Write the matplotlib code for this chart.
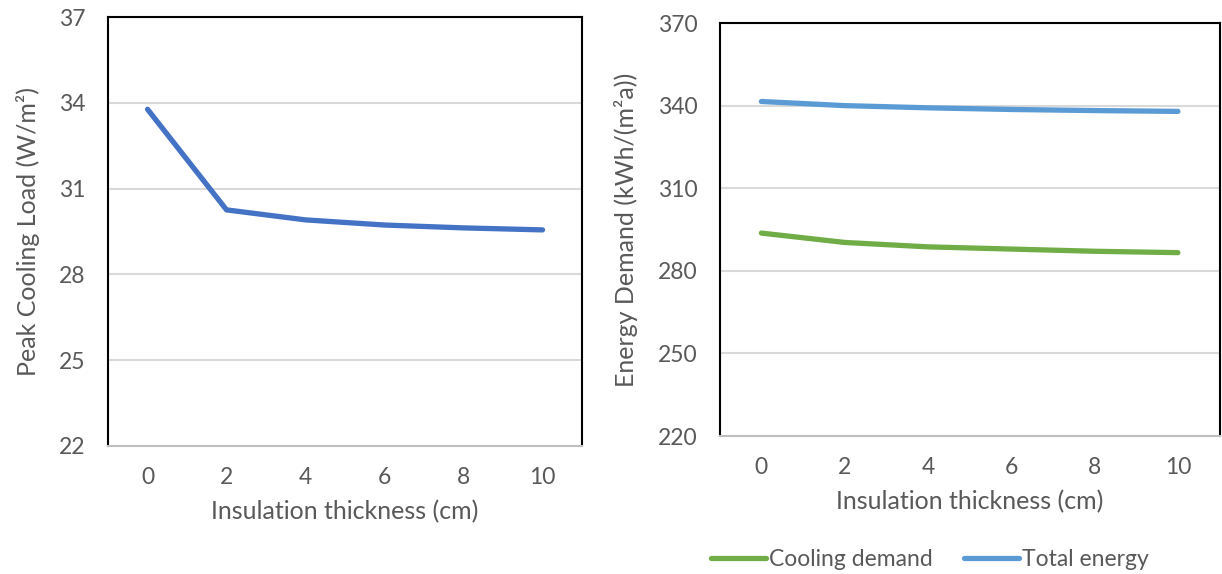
import matplotlib.pyplot as plt

plt.rcParams['font.family'] = ['Lato', 'DejaVu Sans']

thickness = ['0', '2', '4', '6', '8', '10']
peak_load = [33.78, 30.26, 29.91, 29.73, 29.63, 29.56]
cooling_demand = [293.7, 290.3, 288.7, 287.9, 287.1, 286.6]
total_energy = [341.5, 340.0, 339.2, 338.6, 338.2, 337.9]

txt = '#595959'
grid_c = '#d9d9d9'

fig = plt.figure(figsize=(12.22, 5.74), dpi=100)
ax1 = fig.add_axes([0.0884, 0.223, 0.3879, 0.747])
ax2 = fig.add_axes([0.589, 0.2404, 0.409, 0.7195])


def style(ax, ylim, step, label):
    ax.set_xlim(-0.5, len(thickness) - 0.5)
    ax.set_ylim(*ylim)
    ax.set_yticks(range(ylim[0], ylim[1] + 1, step))
    ax.set_xticks(range(len(thickness)))
    ax.set_xticklabels(thickness)
    ax.grid(axis='y', color=grid_c, lw=1.5)
    ax.set_axisbelow(True)
    ax.tick_params(length=0, labelsize=16.5, colors=txt)
    ax.tick_params(axis='y', pad=16)
    ax.tick_params(axis='x', pad=15)
    for s in ['top', 'left', 'right']:
        ax.spines[s].set_color('black')
        ax.spines[s].set_linewidth(1.5)
    ax.spines['bottom'].set_color('#bfbfbf')
    ax.spines['bottom'].set_linewidth(1.5)
    ax.set_xlabel('Insulation thickness (cm)', fontsize=18, color=txt, labelpad=9)
    ax.set_ylabel(label, fontsize=18, color=txt, labelpad=14)


x = range(len(thickness))
ax1.plot(x, peak_load, color='#4472C4', lw=3.8, solid_capstyle='round')
style(ax1, (22, 37), 3, 'Peak Cooling Load (W/m²)')

ax2.plot(x, cooling_demand, color='#70AD47', lw=3.8, solid_capstyle='round', label='Cooling demand')
ax2.plot(x, total_energy, color='#5B9BD5', lw=3.8, solid_capstyle='round', label='Total energy')
style(ax2, (220, 370), 30, 'Energy Demand (kWh/(m²a))')

fig.legend(loc='center', bbox_to_anchor=(0.761, 0.026), ncol=2, frameon=False,
           fontsize=16.5, labelcolor=txt, handlelength=2.4, handletextpad=0.1,
           columnspacing=1.4)

fig.savefig('out.png', dpi=100)
